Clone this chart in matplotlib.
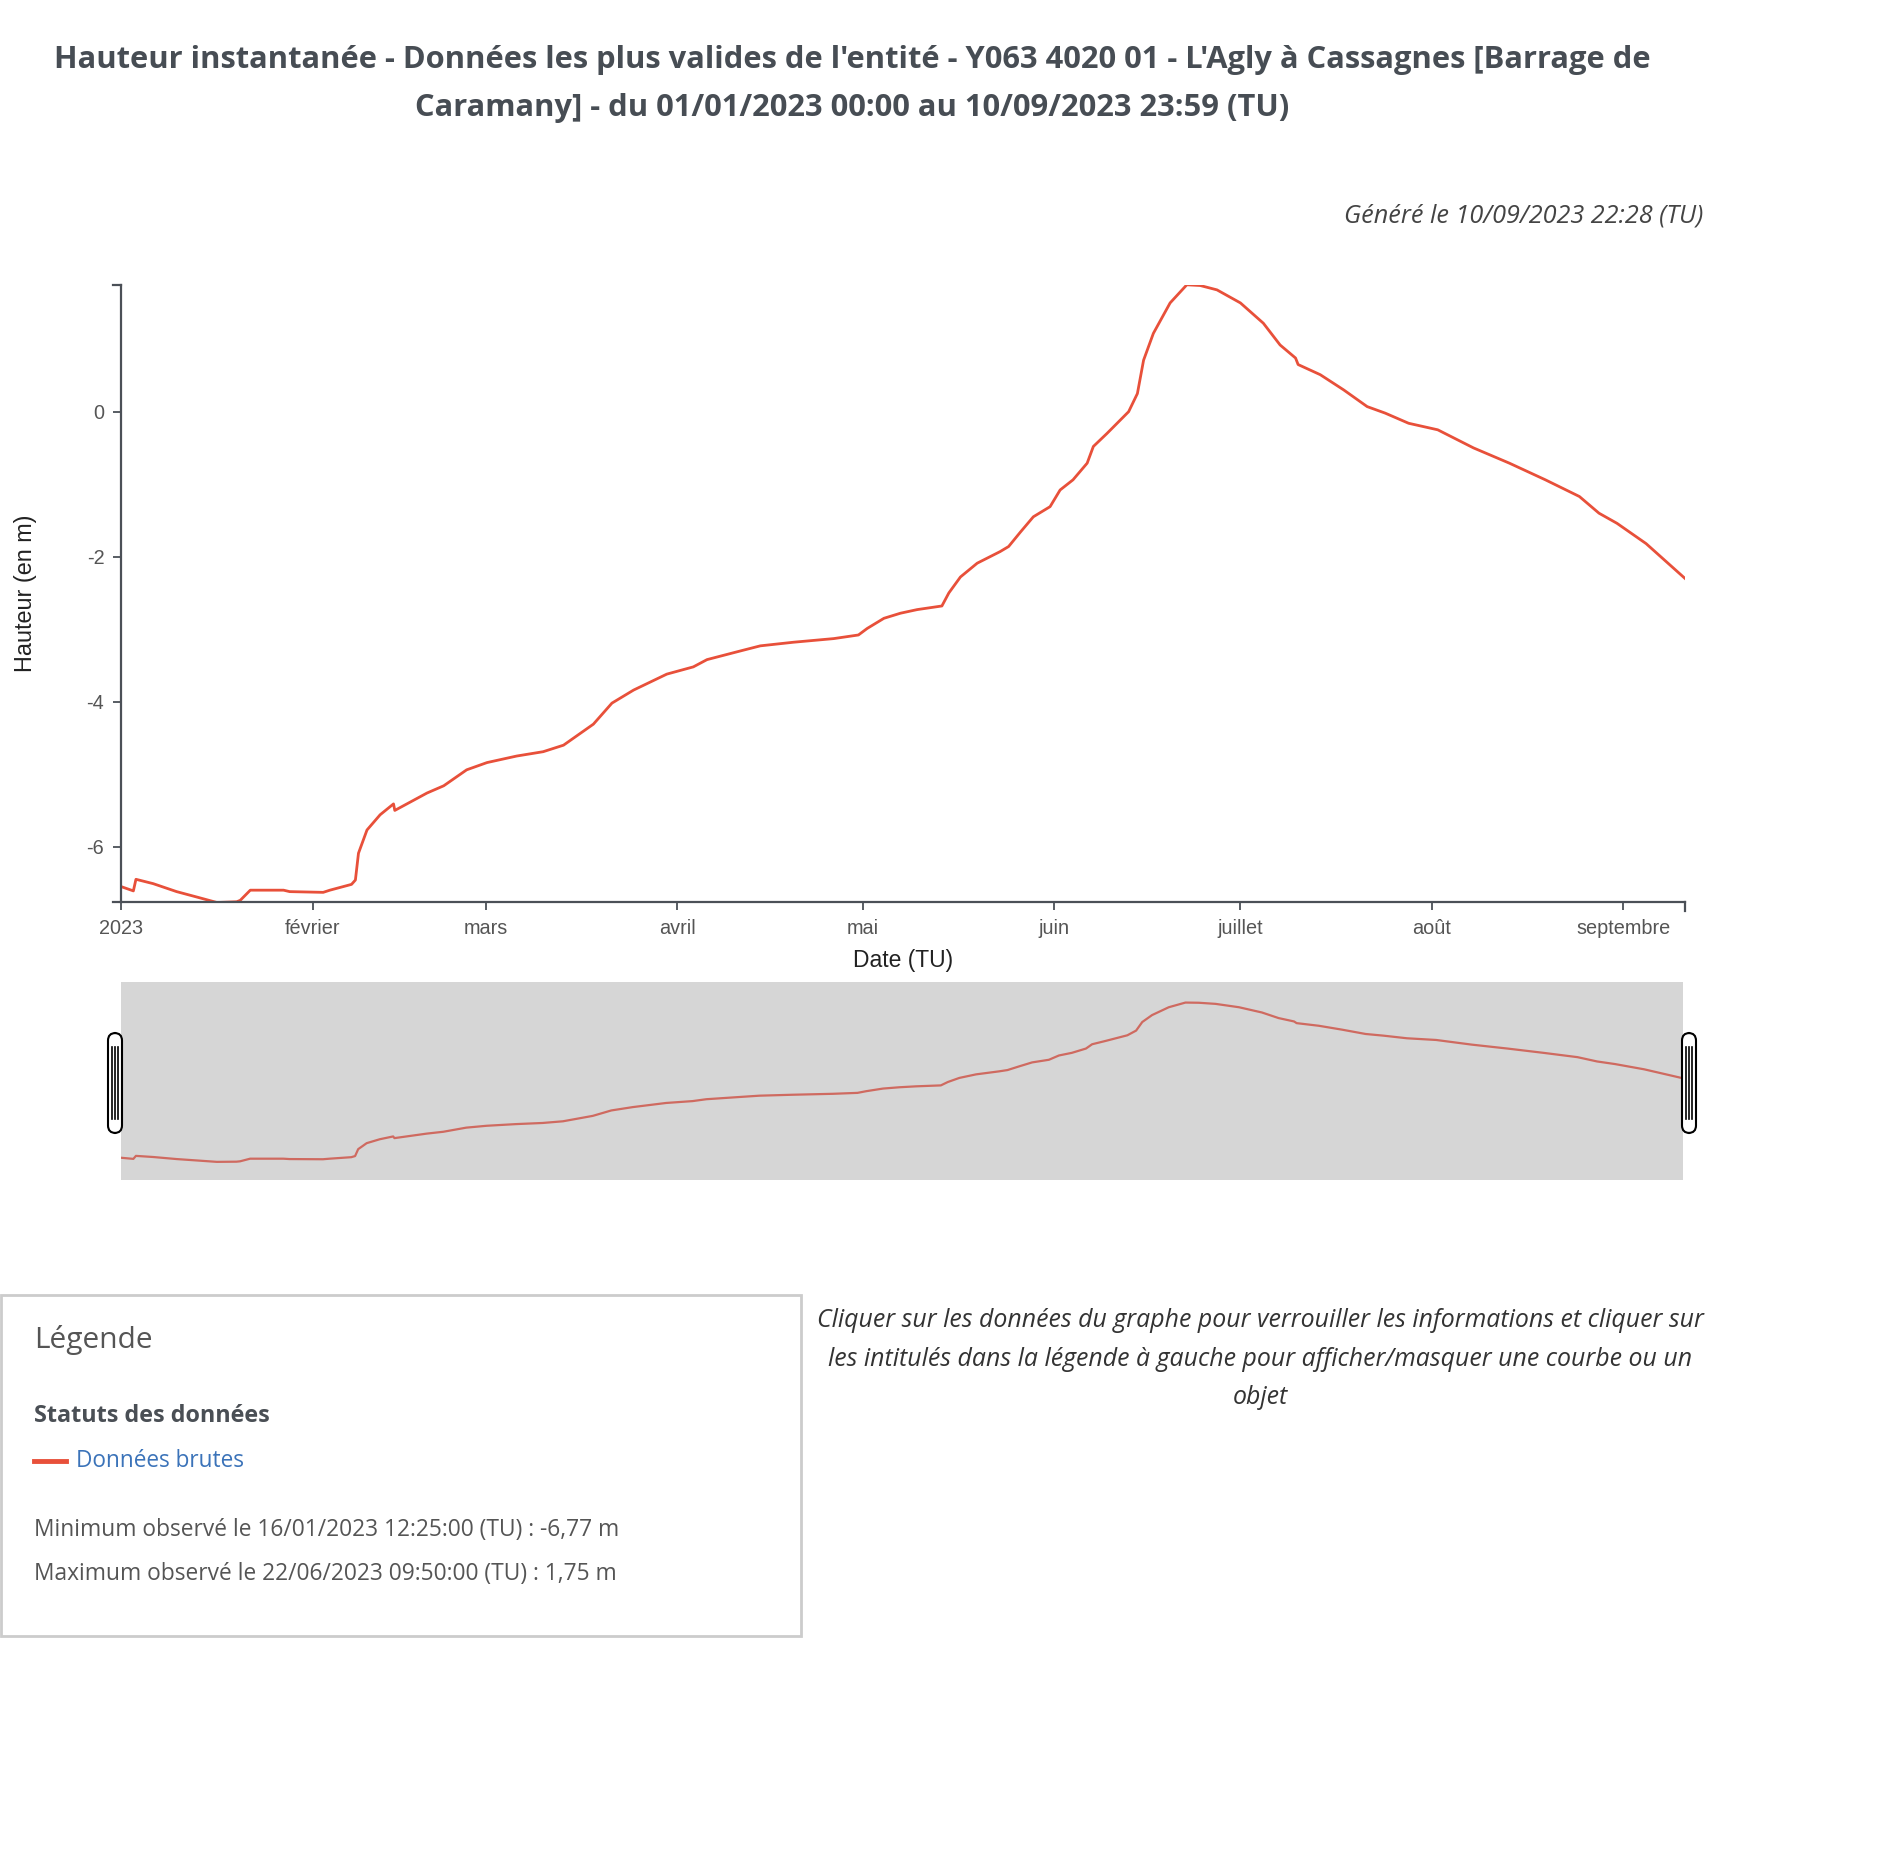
import matplotlib
matplotlib.use("Agg")
import matplotlib.pyplot as plt
import matplotlib.dates as mdates
from matplotlib.patches import FancyBboxPatch, Rectangle
from matplotlib.lines import Line2D
import numpy as np
import pandas as pd

# ---------------- data ----------------
dates = [
    "2023-01-01 00:00", "2023-01-03 00:00", "2023-01-03 10:00", "2023-01-06 05:00",
    "2023-01-10 00:00", "2023-01-13 12:00", "2023-01-16 12:25", "2023-01-19 17:00",
    "2023-01-20 07:00", "2023-01-21 22:00", "2023-01-27 07:00", "2023-01-28 07:00",
    "2023-02-02 17:00", "2023-02-03 19:00", "2023-02-07 07:00", "2023-02-07 22:00",
    "2023-02-08 10:00", "2023-02-09 19:00", "2023-02-11 22:00", "2023-02-14 02:00",
    "2023-02-14 07:00", "2023-02-19 12:00", "2023-02-22 05:00", "2023-02-25 22:00",
    "2023-03-01 05:00", "2023-03-06 00:00", "2023-03-10 07:00", "2023-03-13 14:00",
    "2023-03-18 10:00", "2023-03-21 10:00", "2023-03-24 22:00", "2023-03-30 07:00",
    "2023-04-03 14:00", "2023-04-05 19:00", "2023-04-11 05:00", "2023-04-14 10:00",
    "2023-04-19 19:00", "2023-04-26 07:00", "2023-04-30 07:00", "2023-05-01 17:00",
    "2023-05-04 10:00", "2023-05-07 02:00", "2023-05-09 19:00", "2023-05-13 19:00",
    "2023-05-14 22:00", "2023-05-16 19:00", "2023-05-19 12:00", "2023-05-23 05:00",
    "2023-05-24 14:00", "2023-05-26 12:00", "2023-05-28 14:00", "2023-05-31 07:00",
    "2023-06-01 22:00", "2023-06-04 00:00", "2023-06-06 07:00", "2023-06-07 07:00",
    "2023-06-09 12:00", "2023-06-13 00:00", "2023-06-14 10:00", "2023-06-15 10:00",
    "2023-06-17 00:00", "2023-06-19 17:00", "2023-06-22 09:50", "2023-06-24 14:00",
    "2023-06-27 07:00", "2023-07-01 02:00", "2023-07-04 19:00", "2023-07-07 12:00",
    "2023-07-10 00:00", "2023-07-10 10:00", "2023-07-14 00:00", "2023-07-17 19:00",
    "2023-07-21 14:00", "2023-07-24 12:00", "2023-07-28 07:00", "2023-08-02 00:00",
    "2023-08-07 19:00", "2023-08-13 14:00", "2023-08-19 10:00", "2023-08-24 22:00",
    "2023-08-28 02:00", "2023-08-31 00:00", "2023-09-04 17:00", "2023-09-10 23:59",
]
hauteur = [
    -6.55, -6.61, -6.45, -6.51,
    -6.62, -6.70, -6.77, -6.76,
    -6.74, -6.60, -6.60, -6.62,
    -6.63, -6.60, -6.52, -6.46,
    -6.09, -5.77, -5.56, -5.41,
    -5.50, -5.26, -5.16, -4.94,
    -4.84, -4.75, -4.69, -4.60,
    -4.31, -4.02, -3.84, -3.62,
    -3.52, -3.42, -3.30, -3.23,
    -3.18, -3.13, -3.08, -2.99,
    -2.85, -2.78, -2.73, -2.68,
    -2.50, -2.28, -2.09, -1.93,
    -1.86, -1.66, -1.45, -1.31,
    -1.08, -0.94, -0.71, -0.48,
    -0.30, 0.00, 0.25, 0.71,
    1.08, 1.50, 1.75, 1.74,
    1.68, 1.50, 1.22, 0.92,
    0.74, 0.65, 0.51, 0.30,
    0.07, -0.02, -0.16, -0.25,
    -0.50, -0.71, -0.94, -1.17,
    -1.40, -1.54, -1.82, -2.30,
]
month_ticks = ["2023-01-01", "2023-02-01", "2023-03-01", "2023-04-01", "2023-05-01",
               "2023-06-01", "2023-07-01", "2023-08-01", "2023-09-01"]
month_labels = ["2023", "février", "mars", "avril", "mai", "juin", "juillet", "août", "septembre"]
y_ticks = [-6, -4, -2, 0]
y_tick_labels = ["-6", "-4", "-2", "0"]
x_start, x_end = "2023-01-01 00:00", "2023-09-10 23:59"
y_min, y_max = -6.77, 1.75

t = pd.to_datetime(dates)

# ---------------- figure ----------------
W, H = 1904, 1860
fig = plt.figure(figsize=(W / 100, H / 100), dpi=100)
fig.patch.set_facecolor("white")

def fx(px):
    return px / W

def fy(py):
    return 1 - py / H

LINE = "#e8503a"
AX = "#4b5057"
TXT = "#555555"
SANS = ["Liberation Sans", "DejaVu Sans"]
OPEN = ["Open Sans", "DejaVu Sans"]

# Title
title_col = "#474d54"
fig.text(fx(852), fy(60), "Hauteur instantanée - Données les plus valides de l'entité - Y063 4020 01 - L'Agly à Cassagnes [Barrage de",
         ha="center", va="center", fontsize=22.2, fontweight="bold", color=title_col, family=OPEN)
fig.text(fx(852), fy(108), "Caramany] - du 01/01/2023 00:00 au 10/09/2023 23:59 (TU)",
         ha="center", va="center", fontsize=22.2, fontweight="bold", color=title_col, family=OPEN)
fig.text(fx(1703), fy(216), "Généré le 10/09/2023 22:28 (TU)", ha="right", va="center",
         fontsize=18.2, style="italic", color="#444444", family=OPEN)

# Main axes
L, R, T, B = 121, 1685, 284.8, 902.5
ax = fig.add_axes([fx(L), fy(B), fx(R - L), (B - T) / H])
ax.plot(t, hauteur, color=LINE, lw=2.0, solid_joinstyle="round")
ax.set_xlim(pd.Timestamp(x_start), pd.Timestamp(x_end))
ax.set_ylim(y_min, y_max)
for s in ["top", "right"]:
    ax.spines[s].set_visible(False)
for s in ["left", "bottom"]:
    ax.spines[s].set_color(AX)
    ax.spines[s].set_linewidth(1.6)
ax.set_xticks(pd.to_datetime(month_ticks))
ax.set_xticklabels(month_labels)
ax.set_yticks(y_ticks)
ax.set_yticklabels(y_tick_labels)
ax.tick_params(axis="both", colors=AX, length=6, width=1.3, labelsize=14.3, labelcolor=TXT, pad=6)
for lab in ax.get_xticklabels() + ax.get_yticklabels():
    lab.set_family(SANS)
ax.set_xlabel("Date (TU)", fontsize=16.5, color="#222222", family=SANS, labelpad=8)
ax.set_ylabel("Hauteur (en m)", fontsize=16.8, color="#222222", family=SANS, labelpad=36)
# outer ticks (d3 style domain)
tl = 8.5 / (R - L)
tv = 8.5 / (B - T)
for xs, ys in [([-tl, 0], [1, 1]), ([-tl, 0], [0, 0]), ([1, 1], [0, -tv])]:
    ax.add_line(Line2D(xs, ys, transform=ax.transAxes, color=AX, lw=1.6, clip_on=False))

# Navigator
NT, NB = 982, 1180
nav = fig.add_axes([fx(L), fy(NB), fx(1683 - L), (NB - NT) / H])
nav.set_facecolor("#d6d6d6")
nav.plot(t, hauteur, color="#cf6a60", lw=1.6)
nav.set_xlim(pd.Timestamp(x_start), pd.Timestamp(x_end))
nav.set_ylim(-7.74, 2.85)
nav.set_xticks([])
nav.set_yticks([])
for s in nav.spines.values():
    s.set_visible(False)

# Navigator handles
def handle(xc):
    hw, hh = 14, 100
    x0, y0 = xc - hw / 2, (NT + NB) / 2 - hh / 2 + 2
    p = FancyBboxPatch((fx(x0), fy(y0 + hh)), fx(hw), hh / H,
                       boxstyle="round,pad=0,rounding_size=0.004",
                       transform=fig.transFigure, facecolor="white", edgecolor="black", lw=1.5,
                       mutation_aspect=W / H)
    fig.add_artist(p)
    for dx in (-2.5, 0.5, 3.5):
        fig.add_artist(Line2D([fx(xc + dx - 0.5)] * 2, [fy(y0 + 14), fy(y0 + hh - 14)],
                              transform=fig.transFigure, color="black", lw=1.2))

handle(L - 6)
handle(1683 + 6)

# Legend box
fig.add_artist(Rectangle((fx(1), fy(1636)), fx(800), (1636 - 1295) / H,
                         transform=fig.transFigure, facecolor="white", edgecolor="#cccccc", lw=2))
fig.text(fx(34), fy(1340), "Légende", ha="left", va="center", fontsize=21.5, color=TXT, family=OPEN)
fig.text(fx(34), fy(1416), "Statuts des données", ha="left", va="center", fontsize=16.8,
         fontweight="bold", color="#4a4f55", family=OPEN)
fig.add_artist(Line2D([fx(34), fx(66)], [fy(1461), fy(1461)], transform=fig.transFigure,
                      color=LINE, lw=3.5))
fig.text(fx(76), fy(1461), "Données brutes", ha="left", va="center", fontsize=16.3,
         color="#3b73b9", family=OPEN)
fig.text(fx(34), fy(1530), "Minimum observé le 16/01/2023 12:25:00 (TU) : -6,77 m", ha="left",
         va="center", fontsize=16.4, color=TXT, family=OPEN)
fig.text(fx(34), fy(1574), "Maximum observé le 22/06/2023 09:50:00 (TU) : 1,75 m", ha="left",
         va="center", fontsize=16.4, color=TXT, family=OPEN)

# Note
note = ["Cliquer sur les données du graphe pour verrouiller les informations et cliquer sur",
        "les intitulés dans la légende à gauche pour afficher/masquer une courbe ou un",
        "objet"]
for i, line in enumerate(note):
    fig.text(fx(1260), fy(1320 + i * 39), line, ha="center", va="center", fontsize=17.9,
             style="italic", color="#333333", family=OPEN)

fig.savefig("out.png", dpi=100, facecolor="white")
